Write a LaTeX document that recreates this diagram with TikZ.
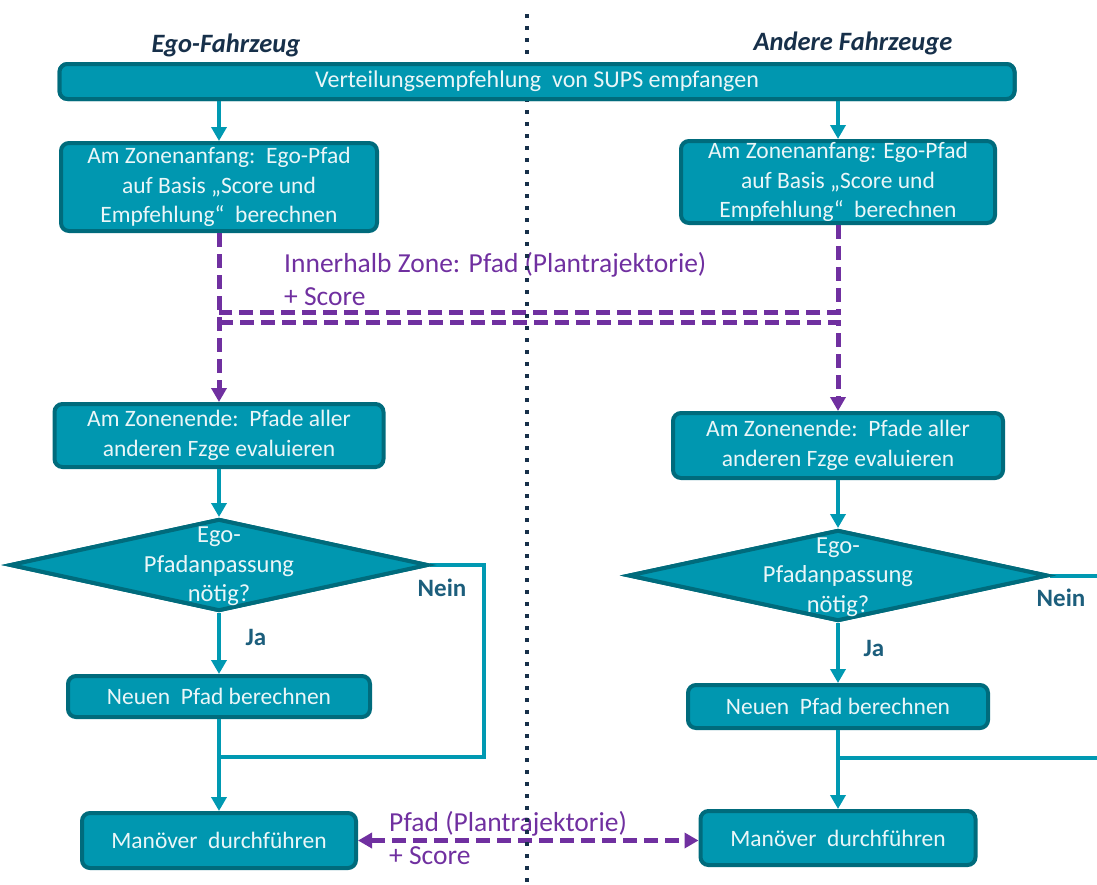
\documentclass[tikz,border=0pt]{standalone}
\usepackage{fontspec}
\setmainfont{Carlito}
\usetikzlibrary{arrows.meta,shapes.geometric,calc}
\definecolor{tealfill}{HTML}{0097B0}
\definecolor{tealedge}{HTML}{006B7C}
\definecolor{tealline}{HTML}{0099B2}
\definecolor{purp}{HTML}{7030A0}
\definecolor{navy}{HTML}{17304A}
\definecolor{labteal}{HTML}{1C5E7C}
\definecolor{boxtext}{HTML}{EAF6F8}
\tikzset{
  box/.style={draw=tealedge, fill=tealfill, line width=4pt, rounded corners=8pt,
    text=boxtext, align=center, inner sep=0pt,
    font=\fontsize{23.5}{29.5}\selectfont},
  dia/.style={draw=tealedge, fill=tealfill, line width=4pt, diamond, inner sep=0pt},
  diatext/.style={text=boxtext, align=center, inner sep=0pt, font=\fontsize{24.5}{29.5}\selectfont},
  flow/.style={draw=tealline, line width=4pt},
  arr/.style={flow, -{Triangle[width=15pt,length=14pt]}},
  pdash/.style={draw=purp, line width=5pt, dash pattern=on 14pt off 7pt},
  ptip/.style={-{Triangle[width=15pt,length=14pt]}},
  plabel/.style={text=purp, align=left, inner sep=0pt, font=\fontsize{27.5}{33}\selectfont},
  yn/.style={text=labteal, inner sep=0pt, font=\fontsize{25}{28}\selectfont\bfseries},
  head/.style={text=navy, inner sep=0pt, font=\fontsize{26.5}{30}\selectfont\bfseries\itshape},
  sep/.style={draw=navy, line width=4pt, dash pattern=on 4pt off 8pt}
}
\begin{document}
\begin{tikzpicture}[x=1pt,y=-1pt]
\useasboundingbox (0,0) rectangle (1097,884);
% headings
\node[head] (hl) at (226,45) {Ego-Fahrzeug};
\node[head] (hr) at (853,43) {Andere Fahrzeuge};
% purple labels (behind the separator)
\node[plabel, anchor=west] (pl1) at (284,279.5) {Innerhalb Zone: Pfad (Plantrajektorie)\\+ Score};
\node[plabel, anchor=west] (pl2) at (389,838.5) {Pfad (Plantrajektorie)\\+ Score};
% separator end points
\coordinate (st) at (527,14);
\coordinate (sb) at (527,884);
% boxes
\node[box, minimum width=955, minimum height=35, font=\fontsize{24}{29}\selectfont] (top) at (537,81.5) {Verteilungsempfehlung\ \ von SUPS empfangen};
\node[box, minimum width=316, minimum height=88] (l1) at (219,187) {Am Zonenanfang:\ \ Ego-Pfad\\auf Basis „Score und\\Empfehlung“\ \ berechnen};
\node[box, minimum width=314, minimum height=82] (r1) at (838,182) {Am Zonenanfang: Ego-Pfad\\auf Basis „Score und\\Empfehlung“\ \ berechnen};
\node[box, minimum width=329, minimum height=63] (l2) at (219,435.5) {Am Zonenende:\ \ Pfade aller\\anderen Fzge evaluieren};
\node[box, minimum width=330, minimum height=65] (r2) at (838,445.5) {Am Zonenende:\ \ Pfade aller\\anderen Fzge evaluieren};
\node[dia, minimum width=418, minimum height=92] (ld) at (219,565) {};
\node[dia, minimum width=419, minimum height=91] (rd) at (838,575.5) {};
\node[box, minimum width=302, minimum height=41] (l3) at (219,696.5) {Neuen\ \ Pfad berechnen};
\node[box, minimum width=300, minimum height=43] (r3) at (838,706.5) {Neuen\ \ Pfad berechnen};
\node[box, minimum width=274, minimum height=55] (l4) at (219,840.5) {Manöver\ \ durchführen};
\node[box, minimum width=275, minimum height=54] (r4) at (838,838) {Manöver\ \ durchführen};
\node[diatext] (ldt) at (219,566.5) {Ego-\\Pfadanpassung\\nötig?};
\node[diatext] (rdt) at (838,577) {Ego-\\Pfadanpassung\\nötig?};
% purple dashed connectors
\coordinate (jl) at (219,312);
\coordinate (jl2) at (219,322);
\draw[pdash] (r1.south) |- (jl);
\draw[pdash, ptip] (jl2) -| (r2.north);
\draw[pdash, ptip] (l1.south) -- (l2.north);
\draw[pdash, {Triangle[width=15pt,length=14pt]}-{Triangle[width=15pt,length=14pt]}] (l4.east) -- (l4.east -| r4.west);
% separator over purple
\draw[sep] (st) -- (sb);
% teal connectors
\draw[arr] (top.south -| l1.north) -- (l1.north);
\draw[arr] (top.south -| r1.north) -- (r1.north);
\draw[arr] (l2.south) -- (ld.north);
\draw[arr] (r2.south) -- (rd.north);
\draw[arr] (ld.south) -- (l3.north);
\draw[arr] (rd.south) -- (r3.north);
\draw[arr] (l3.south) -- (l4.north);
\draw[arr] (r3.south) -- (r4.north);
\coordinate (lnc) at (484,757);
\coordinate (lj) at (219,757);
\draw[flow] (ld.east) -| (lnc) -- (lj);
\coordinate (rexit) at (1097,575.5);
\coordinate (rj) at (838,758);
\coordinate (rexit2) at (1097,758);
\draw[flow] (rd.east) -- (rexit);
\draw[flow] (rj) -- (rexit2);
% redraw the top bar and diamonds over the separator
\node[box, minimum width=955, minimum height=35, font=\fontsize{24}{29}\selectfont] (top2) at (537,81.5) {Verteilungsempfehlung\ \ von SUPS empfangen};
\node[dia, minimum width=418, minimum height=92] (ld2) at (219,565) {};
\node[dia, minimum width=419, minimum height=91] (rd2) at (838,575.5) {};
\node[diatext] (ldt2) at (219,566.5) {Ego-\\Pfadanpassung\\nötig?};
\node[diatext] (rdt2) at (838,577) {Ego-\\Pfadanpassung\\nötig?};
% labels
\node[yn] (nl) at (442,588) {Nein};
\node[yn] (nr) at (1061,598) {Nein};
\node[yn] (jal) at (256,637) {Ja};
\node[yn] (jar) at (874,648) {Ja};
\end{tikzpicture}
\end{document}
